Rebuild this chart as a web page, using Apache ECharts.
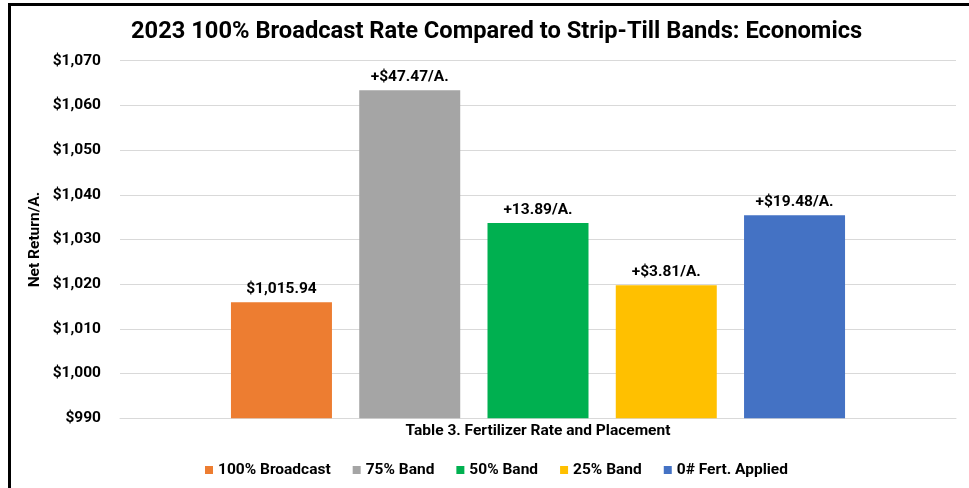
<!DOCTYPE html>
<html>
<head>
<meta charset="utf-8">
<script src="https://cdn.jsdelivr.net/npm/echarts@6/dist/echarts.min.js"></script>
<style>
  html, body { margin: 0; padding: 0; background: #fff; }
  #chart { width: 969px; height: 488px; }
</style>
</head>
<body>
<div id="chart"></div>
<script>
// Net return per acre for each fertilizer rate / placement treatment
const categories = ['Table 3. Fertilizer Rate and Placement'];
const seriesNames = ['100% Broadcast', '75% Band', '50% Band', '25% Band', '0# Fert. Applied'];
const netReturn = [1015.94, 1063.41, 1033.7, 1019.75, 1035.42];
const barLabels = ['$1,015.94', '+$47.47/A.', '+13.89/A.', '+$3.81/A.', '+$19.48/A.'];
const barColors = ['#ED7D31', '#A5A5A5', '#00B050', '#FFC000', '#4472C4'];
const yTicks = { min: 990, max: 1070, interval: 10 };

const FONT = 'Roboto';
const TEXT_SIZE = 15.5;

const chart = echarts.init(document.getElementById('chart'), null, { renderer: 'canvas' });

const series = seriesNames.map((name, i) => ({
  name: name,
  type: 'bar',
  data: [netReturn[i]],
  barWidth: 101,
  barGap: '27%',
  itemStyle: { color: barColors[i] },
  label: {
    show: true,
    position: 'top',
    distance: 5,
    formatter: () => barLabels[i],
    color: '#000',
    fontFamily: FONT,
    fontWeight: 'bold',
    fontSize: TEXT_SIZE
  }
}));

chart.setOption({
  animation: false,
  backgroundColor: '#fff',
  title: {
    text: '2023 100% Broadcast Rate Compared to Strip-Till Bands: Economics',
    left: 126,
    top: 15,
    textStyle: { fontFamily: FONT, fontWeight: 'bold', fontSize: 23.7, color: '#000' }
  },
  legend: {
    data: seriesNames,
    left: 200,
    top: 457,
    icon: 'rect',
    itemWidth: 8,
    itemHeight: 8,
    itemGap: 22,
    textStyle: { fontFamily: FONT, fontWeight: 'bold', fontSize: TEXT_SIZE, color: '#000' }
  },
  grid: { left: 120, right: 13, top: 60.7, bottom: 69.7, containLabel: false },
  xAxis: {
    type: 'category',
    data: categories,
    axisLine: { lineStyle: { color: '#d9d9d9', width: 1 } },
    axisTick: { show: false },
    axisLabel: { margin: 5, color: '#000', fontFamily: FONT, fontWeight: 'bold', fontSize: TEXT_SIZE }
  },
  yAxis: {
    type: 'value',
    min: yTicks.min,
    max: yTicks.max,
    interval: yTicks.interval,
    name: 'Net Return/A.',
    nameLocation: 'middle',
    nameGap: 77,
    nameMoveOverlap: false,
    nameTextStyle: { fontFamily: FONT, fontWeight: 'bold', fontSize: TEXT_SIZE, color: '#000' },
    axisLine: { show: false },
    axisTick: { show: false },
    axisLabel: {
      margin: 19,
      color: '#000',
      fontFamily: FONT,
      fontWeight: 'bold',
      fontSize: TEXT_SIZE,
      formatter: v => '$' + v.toLocaleString('en-US')
    },
    splitLine: { lineStyle: { color: '#d9d9d9', width: 1 } }
  },
  graphic: [
    { type: 'line', shape: { x1: 8, y1: 4.5, x2: 969, y2: 4.5 }, style: { stroke: '#000', lineWidth: 3 } },
    { type: 'line', shape: { x1: 9.5, y1: 3, x2: 9.5, y2: 488 }, style: { stroke: '#000', lineWidth: 3 } }
  ],
  series: series
});
</script>
</body>
</html>
